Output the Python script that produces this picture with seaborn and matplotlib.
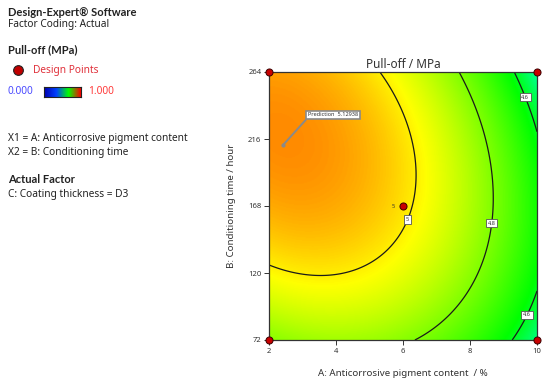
import numpy as np
import seaborn as sns
import matplotlib.pyplot as plt
from matplotlib.colors import LinearSegmentedColormap, Normalize

# -------------------------------
# DATA (Design-Expert coded model, A and B in -1..+1)
# -------------------------------
coef_names = ["Intercept", "A", "B", "AB", "A^2", "B^2"]
coef_values = [5.016, -0.2223, 0.0692, -0.0798, -0.147, -0.133]

a_range = [2, 10]      # anticorrosive pigment content, %
b_range = [72, 264]    # conditioning time, hour
x_ticks = [2, 4, 6, 8, 10]
y_ticks = [72, 120, 168, 216, 264]

contour_levels = [4.6, 4.8, 5.0]
contour_labels = ["4.6", "4.8", "5"]

design_a = [2, 2, 10, 10, 6]
design_b = [72, 264, 72, 264, 168]
design_reps = [1, 1, 1, 1, 5]

flag_a = 2.42
flag_b = 211.7
flag_value = 5.12938

# -------------------------------
# STYLE
# -------------------------------
W, H = 550, 385
sns.set_theme(style="ticks")
plt.rcParams["font.family"] = ["Noto Sans", "DejaVu Sans"]
BOLD = ["Lato", "DejaVu Sans"]

# colour stops of the response scale (blue, cyan, green, yellow, red)
stop_vals = [4.22, 4.42, 4.62, 4.98, 5.32]
stop_cols = ["#0000ff", "#00ffff", "#00ff00", "#ffff00", "#ff0000"]
lo, hi = stop_vals[0], stop_vals[-1]
de_cmap = LinearSegmentedColormap.from_list(
    "design_expert", [((v - lo) / (hi - lo), c) for v, c in zip(stop_vals, stop_cols)])
legend_cmap = LinearSegmentedColormap.from_list(
    "legend_bar", ["#0000b0", "#0040ff", "#00ff00", "#ff0000"])
norm = Normalize(vmin=lo, vmax=hi)


def px(x, y):
    return x / W, 1 - y / H


def pull_off(a, b):
    u = (a - 6) / 4
    v = (b - 168) / 96
    c = dict(zip(coef_names, coef_values))
    return (c["Intercept"] + c["A"] * u + c["B"] * v + c["AB"] * u * v
            + c["A^2"] * u ** 2 + c["B^2"] * v ** 2)


fig = plt.figure(figsize=(W / 100, H / 100), dpi=100)
ax = fig.add_axes([269 / W, 1 - 340 / H, (537 - 269) / W, (340 - 72) / H])

# surface
ga = np.linspace(a_range[0], a_range[1], 300)
gb = np.linspace(b_range[0], b_range[1], 300)
A, B = np.meshgrid(ga, gb)
Z = pull_off(A, B)

ax.imshow(Z, extent=[a_range[0], a_range[1], b_range[0], b_range[1]],
          origin="lower", aspect="auto", cmap=de_cmap, norm=norm,
          interpolation="bilinear", zorder=0)
cs = ax.contour(A, B, Z, levels=contour_levels, colors="#1a1a1a",
                linewidths=0.9, zorder=2)
ax.clabel(cs, contour_levels, fmt=dict(zip(contour_levels, contour_labels)),
          inline=False, fontsize=4,
          manual=[(6.09, 158.7), (8.65, 155.6), (9.66, 246), (9.61, 91.1)])
for t in cs.labelTexts:
    t.set_rotation(0)
    t.set_color("#333333")
    t.set_zorder(4)
    t.set_bbox(dict(boxstyle="square,pad=0.3", fc="white", ec="#555555", lw=0.6))

# design points
sns.scatterplot(x=design_a, y=design_b, ax=ax, s=26, color="#c80000",
                edgecolor="#3a0000", linewidth=0.7, clip_on=False, zorder=5,
                legend=False)
for a, b, n in zip(design_a, design_b, design_reps):
    if n > 1:
        ax.annotate(str(n), (a, b), xytext=(-6, 0), textcoords="offset points",
                    fontsize=4, color="#333333", ha="right", va="center")

# prediction flag
ax.annotate(f"Prediction  {flag_value}", (flag_a, flag_b),
            xytext=(3.91, 233.2), textcoords="data", fontsize=4,
            color="#333333", ha="center", va="center", zorder=6,
            bbox=dict(boxstyle="square,pad=0.35", fc="white", ec="#8a8a8a", lw=1.2),
            arrowprops=dict(arrowstyle="-", color="#8a8a8a", lw=1.4,
                            relpos=(0, 0), shrinkA=0, shrinkB=0))
ax.plot(flag_a, flag_b, "o", ms=2, color="#8a8a8a", zorder=6)

ax.set_xlim(a_range)
ax.set_ylim(b_range)
ax.set_xticks(x_ticks)
ax.set_yticks(y_ticks)
ax.tick_params(direction="out", length=3.5, width=0.7, labelsize=5.5,
               colors="#333333", pad=2)
for s in ax.spines.values():
    s.set_color("#333333")
    s.set_linewidth(0.9)
ax.set_title("Pull-off / MPa", fontsize=8.5, color="#333333", pad=3)
ax.set_xlabel("A: Anticorrosive pigment content  / %", fontsize=7,
              color="#333333", labelpad=10)
ax.set_ylabel("B: Conditioning time / hour", fontsize=7, color="#333333",
              labelpad=9)

# -------------------------------
# LEFT INFO PANEL
# -------------------------------
txt = "#222222"
fig.text(*px(8, 13), "Design-Expert® Software", fontsize=8, weight="bold",
         family=BOLD, color=txt, va="center")
fig.text(*px(8, 24), "Factor Coding: Actual", fontsize=7.3, color=txt,
         va="center")
fig.text(*px(8, 50), "Pull-off (MPa)", fontsize=8, weight="bold", family=BOLD,
         color=txt, va="center")
fig.add_artist(plt.Line2D([18 / W], [1 - 70 / H], marker="o", ms=7,
                          mfc="#c00000", mec="#222222", mew=0.8,
                          transform=fig.transFigure))
fig.text(*px(33, 70), "Design Points", fontsize=7.3, color="#e0303a",
         va="center")
fig.text(*px(8, 92), "0.000", fontsize=7.3, color="#4a4aff", va="center")
fig.text(*px(88, 92), "1.000", fontsize=7.3, color="#ff3a3a", va="center")
cax = fig.add_axes([44 / W, 1 - 97 / H, 37 / W, 10 / H])
cax.imshow(np.linspace(0, 1, 100)[None, :], aspect="auto", cmap=legend_cmap)
cax.set_xticks([])
cax.set_yticks([])
for s in cax.spines.values():
    s.set_color("#222222")
    s.set_linewidth(0.8)

fig.text(*px(8, 139), "X1 = A: Anticorrosive pigment content", fontsize=7.3,
         color=txt, va="center")
fig.text(*px(8, 153), "X2 = B: Conditioning time", fontsize=7.3, color=txt,
         va="center")
fig.text(*px(8, 180), "Actual Factor", fontsize=8, weight="bold", family=BOLD,
         color=txt, va="center")
fig.text(*px(8, 195), "C: Coating thickness = D3", fontsize=7.3, color=txt,
         va="center")

fig.savefig("out.png", dpi=100)
